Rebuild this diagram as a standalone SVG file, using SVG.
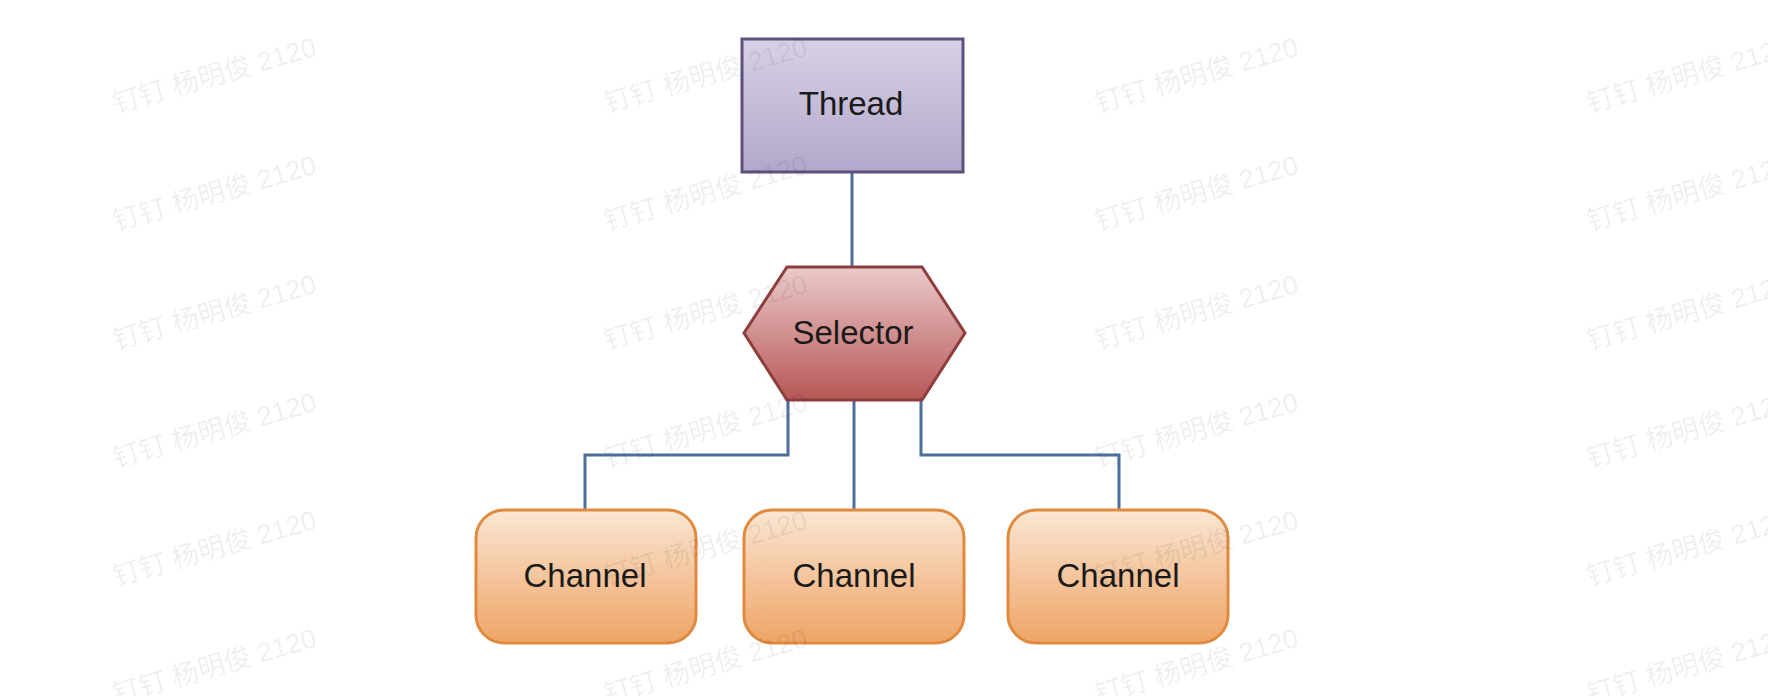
<svg xmlns="http://www.w3.org/2000/svg" width="1768" height="696" viewBox="0 0 1768 696">
<defs>
<linearGradient id="gThread" x1="0" y1="0" x2="0" y2="1"><stop offset="0" stop-color="#d8d1e5"/><stop offset="1" stop-color="#b2a7cb"/></linearGradient>
<linearGradient id="gSel" x1="0" y1="0" x2="0" y2="1"><stop offset="0" stop-color="#ebcaca"/><stop offset="1" stop-color="#b75656"/></linearGradient>
<linearGradient id="gCh" x1="0" y1="0" x2="0" y2="1"><stop offset="0" stop-color="#fbe6d4"/><stop offset="1" stop-color="#eea465"/></linearGradient>
<style>
.lbl{font-family:"Liberation Sans",Arial,sans-serif;font-size:33px;fill:#1a1a1a;text-anchor:middle}
.conn{fill:none;stroke:#4c6f9c;stroke-width:3}
.ch{fill:url(#gCh);stroke:#df8a3e;stroke-width:3}
.wm{font-family:"Liberation Sans","Noto Sans CJK SC",sans-serif;font-size:27px;fill:#000;fill-opacity:0.08}
</style>
</defs>
<rect width="1768" height="696" fill="#ffffff"/>
<g id="connectors">
<line class="conn" x1="852" y1="172" x2="852" y2="267"/>
<polyline class="conn" points="788,400 788,455 585,455 585,510"/>
<line class="conn" x1="854" y1="400" x2="854" y2="510"/>
<polyline class="conn" points="921,400 921,455 1119,455 1119,510"/>
</g>
<g id="thread">
<rect x="742" y="39" width="221" height="133" fill="url(#gThread)" stroke="#5e507f" stroke-width="3"/>
<text class="lbl" x="851" y="115">Thread</text>
</g>
<g id="selector">
<polygon points="787,267 922,267 965,333 922,400 787,400 744,333" fill="url(#gSel)" stroke="#8e3e3e" stroke-width="3"/>
<text class="lbl" x="853" y="344">Selector</text>
</g>
<g id="channel1">
<rect class="ch" x="476" y="510" width="220" height="133" rx="28"/>
<text class="lbl" x="585" y="587">Channel</text>
</g>
<g id="channel2">
<rect class="ch" x="744" y="510" width="220" height="133" rx="28"/>
<text class="lbl" x="854" y="587">Channel</text>
</g>
<g id="channel3">
<rect class="ch" x="1008" y="510" width="220" height="133" rx="28"/>
<text class="lbl" x="1118" y="587">Channel</text>
</g>
<g id="watermark">
<text class="wm" x="116" y="113" transform="rotate(-16 116 113)">钉钉 杨明俊 2120</text>
<text class="wm" x="116" y="231" transform="rotate(-16 116 231)">钉钉 杨明俊 2120</text>
<text class="wm" x="116" y="350" transform="rotate(-16 116 350)">钉钉 杨明俊 2120</text>
<text class="wm" x="116" y="468" transform="rotate(-16 116 468)">钉钉 杨明俊 2120</text>
<text class="wm" x="116" y="586" transform="rotate(-16 116 586)">钉钉 杨明俊 2120</text>
<text class="wm" x="116" y="704" transform="rotate(-16 116 704)">钉钉 杨明俊 2120</text>
<text class="wm" x="607" y="113" transform="rotate(-16 607 113)">钉钉 杨明俊 2120</text>
<text class="wm" x="607" y="231" transform="rotate(-16 607 231)">钉钉 杨明俊 2120</text>
<text class="wm" x="607" y="350" transform="rotate(-16 607 350)">钉钉 杨明俊 2120</text>
<text class="wm" x="607" y="468" transform="rotate(-16 607 468)">钉钉 杨明俊 2120</text>
<text class="wm" x="607" y="586" transform="rotate(-16 607 586)">钉钉 杨明俊 2120</text>
<text class="wm" x="607" y="704" transform="rotate(-16 607 704)">钉钉 杨明俊 2120</text>
<text class="wm" x="1098" y="113" transform="rotate(-16 1098 113)">钉钉 杨明俊 2120</text>
<text class="wm" x="1098" y="231" transform="rotate(-16 1098 231)">钉钉 杨明俊 2120</text>
<text class="wm" x="1098" y="350" transform="rotate(-16 1098 350)">钉钉 杨明俊 2120</text>
<text class="wm" x="1098" y="468" transform="rotate(-16 1098 468)">钉钉 杨明俊 2120</text>
<text class="wm" x="1098" y="586" transform="rotate(-16 1098 586)">钉钉 杨明俊 2120</text>
<text class="wm" x="1098" y="704" transform="rotate(-16 1098 704)">钉钉 杨明俊 2120</text>
<text class="wm" x="1590" y="113" transform="rotate(-16 1590 113)">钉钉 杨明俊 2120</text>
<text class="wm" x="1590" y="231" transform="rotate(-16 1590 231)">钉钉 杨明俊 2120</text>
<text class="wm" x="1590" y="350" transform="rotate(-16 1590 350)">钉钉 杨明俊 2120</text>
<text class="wm" x="1590" y="468" transform="rotate(-16 1590 468)">钉钉 杨明俊 2120</text>
<text class="wm" x="1590" y="586" transform="rotate(-16 1590 586)">钉钉 杨明俊 2120</text>
<text class="wm" x="1590" y="704" transform="rotate(-16 1590 704)">钉钉 杨明俊 2120</text>
</g>
</svg>
